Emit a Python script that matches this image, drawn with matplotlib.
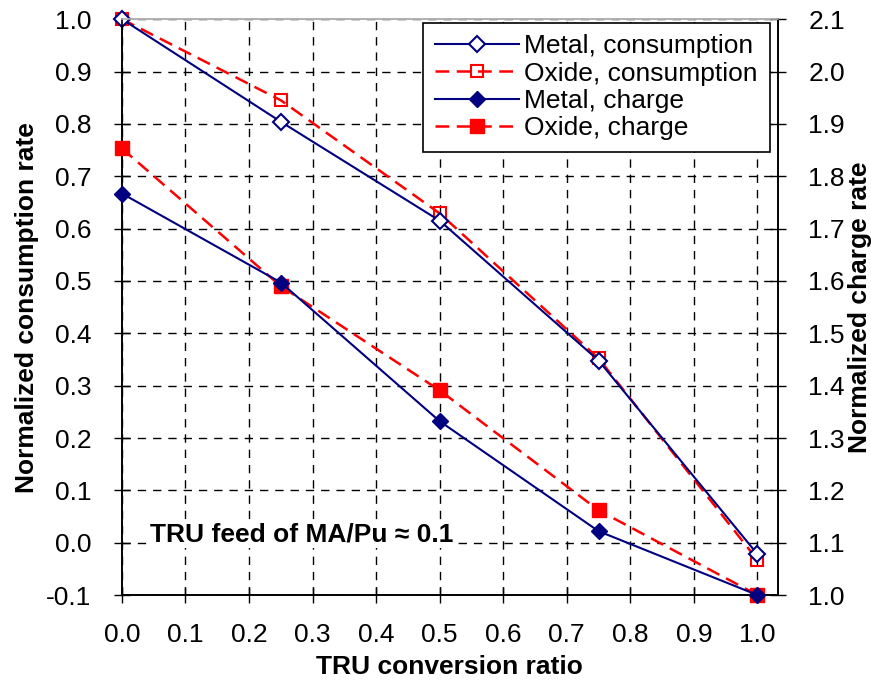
import matplotlib
matplotlib.use("Agg")
import matplotlib.pyplot as plt
import numpy as np

plt.rcParams["font.family"] = ["Liberation Sans", "DejaVu Sans"]

# ---------- data ----------
conversion_ratio = [0.0, 0.25, 0.5, 0.75, 1.0]
metal_consumption = [1.0, 0.804, 0.615, 0.348, -0.022]
oxide_consumption = [1.0, 0.845, 0.629, 0.352, -0.033]
# charge rates are on the right-hand axis
metal_charge = [1.767, 1.597, 1.332, 1.122, 1.0]
oxide_charge = [1.853, 1.590, 1.391, 1.162, 1.0]

x_ticks = np.round(np.arange(0, 1.01, 0.1), 1)
left_ticks = np.round(np.arange(-0.1, 1.01, 0.1), 1)
right_ticks = np.round(np.arange(1.0, 2.11, 0.1), 1)

NAVY = "#000080"
RED = "#FF0000"
FS = 19

fig = plt.figure(figsize=(8.71, 6.84), dpi=100)
ax = fig.add_axes([0.140, 0.130, 0.753, 0.842])
ax2 = ax.twinx()

# ---------- consumption (left axis) ----------
l1, = ax.plot(conversion_ratio, metal_consumption, color=NAVY, lw=1.5,
              marker="D", ms=8, mfc="white", mec=NAVY, mew=1.5,
              clip_on=False, zorder=4, label="Metal, consumption")
l2, = ax.plot(conversion_ratio, oxide_consumption, color=RED, lw=1.8,
              ls=(0, (5.5, 3)), marker="s", ms=9, mfc="none", mec=RED, mew=1.5,
              clip_on=False, zorder=3, label="Oxide, consumption")

# ---------- charge (right axis) ----------
l3, = ax2.plot(conversion_ratio, metal_charge, color=NAVY, lw=1.5,
               marker="D", ms=8.5, mfc=NAVY, mec=NAVY,
               clip_on=False, zorder=4, label="Metal, charge")
l4, = ax2.plot(conversion_ratio, oxide_charge, color=RED, lw=1.8,
               ls=(0, (5.5, 3)), marker="s", ms=9.5, mfc=RED, mec=RED,
               clip_on=False, zorder=3, label="Oxide, charge")

ax.set_xlim(0, 1.032)
ax.set_ylim(-0.1, 1.0)
ax2.set_ylim(1.0, 2.1)

ax.set_xticks(x_ticks)
ax.set_xticklabels([f"{v:.1f}" for v in x_ticks])
ax.set_yticks(left_ticks)
ax.set_yticklabels([f"{v:.1f}" for v in left_ticks])
ax2.set_yticks(right_ticks)
ax2.set_yticklabels([f"{v:.1f}" for v in right_ticks])

ax.tick_params(axis="x", direction="inout", length=12, width=1,
               labelsize=FS, pad=14, top=False)
ax.tick_params(axis="y", direction="inout", length=12, width=1,
               labelsize=FS, pad=16)
ax2.tick_params(axis="y", direction="inout", length=12, width=1,
                labelsize=FS, pad=16)

ax.grid(True, color="black", ls=(0, (6, 5)), lw=1)
ax.set_axisbelow(True)

for a in (ax, ax2):
    for s in ("left", "right", "bottom"):
        a.spines[s].set_color("black")
        a.spines[s].set_linewidth(1.2)
    a.spines["top"].set_color("#b0b0b0")
    a.spines["top"].set_linewidth(1.2)

ax.set_xlabel("TRU conversion ratio", fontsize=FS, fontweight="bold", labelpad=6)
ax.set_ylabel("Normalized consumption rate", fontsize=FS, fontweight="bold", labelpad=5)
ax2.set_ylabel("Normalized charge rate", fontsize=FS, fontweight="bold", labelpad=2)

ax.text(0.044, 0.015, "TRU feed of MA/Pu \u2248 0.1", fontsize=FS,
        fontweight="bold", va="center", ha="left",
        bbox=dict(facecolor="white", edgecolor="none", pad=1))

leg = ax2.legend(handles=[l1, l2, l3, l4], loc="upper right",
                 bbox_to_anchor=(0.9875, 0.994), fontsize=FS, frameon=True,
                 fancybox=False, edgecolor="black", framealpha=1,
                 handlelength=3.2, handletextpad=0.2, borderpad=0.45,
                 labelspacing=0.12, borderaxespad=0)
leg.get_frame().set_linewidth(1.2)

fig.savefig("out.png", dpi=100)
